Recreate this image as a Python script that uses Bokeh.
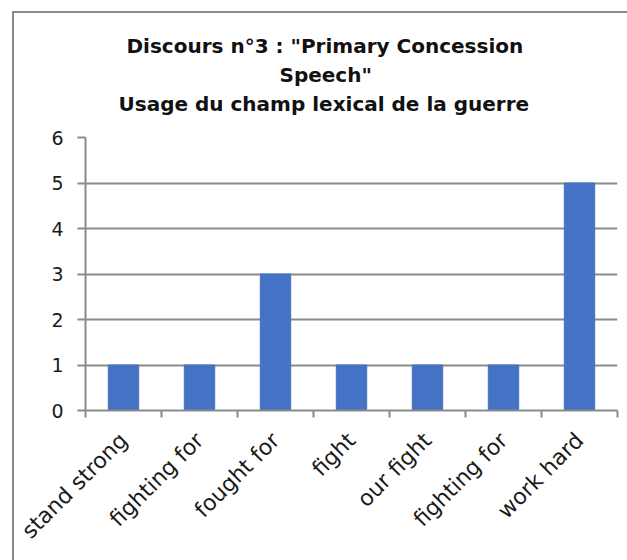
from bokeh.plotting import figure
from bokeh.models import Title, FixedTicker, Range1d
from bokeh.embed import file_html
from bokeh.resources import INLINE
import math

title_lines = ['Discours n°3 : "Primary Concession', 'Speech"', 'Usage du champ lexical de la guerre']
labels = ["stand strong", "fighting for", "fought for", "fight", "our fight", "fighting for", "work hard"]
values = [1, 1, 3, 1, 1, 1, 5]
y_ticks = [0, 1, 2, 3, 4, 5, 6]

TITLE_FONT = "DejaVu Sans"
TICK_FONT = "DejaVu Sans"
GRAY = "#8a8a8a"
BAR = "#4472C4"
TXT = "#1a1a1a"

n = len(labels)
xs = [i + 0.5 for i in range(n)]

p = figure(width=627, height=560, output_backend="svg", toolbar_location=None,
           x_range=Range1d(0, n), y_range=Range1d(0, 6),
           min_border_left=85, min_border_right=10, min_border_top=137, min_border_bottom=150)

# chart-area border: left and top edges, drawn behind a transparent canvas border
p.border_fill_alpha = 0
p.background_fill_color = "white"
p.styles = {
    "background-color": "white",
    "background-image": f"linear-gradient({GRAY}, {GRAY}), linear-gradient({GRAY}, {GRAY})",
    "background-size": "2px 100%, 100% 2px",
    "background-position": "12px 11px, 12px 11px",
    "background-repeat": "no-repeat",
}

p.vbar(x=xs, top=values, width=0.4, color=BAR, line_color=BAR)

p.outline_line_color = None
p.xgrid.grid_line_color = None
p.ygrid.grid_line_color = GRAY
p.ygrid.grid_line_width = 2
p.ygrid.ticker = FixedTicker(ticks=y_ticks)

ya = p.yaxis[0]
ya.ticker = FixedTicker(ticks=y_ticks)
ya.axis_line_color = GRAY
ya.axis_line_width = 2
ya.major_tick_line_color = GRAY
ya.major_tick_line_width = 2
ya.major_tick_out = 8
ya.major_tick_in = 0
ya.minor_tick_line_color = None
ya.major_label_text_font = TICK_FONT
ya.major_label_text_font_size = "19px"
ya.major_label_text_color = TXT
ya.major_label_standoff = 14

xa = p.xaxis[0]
xa.ticker = FixedTicker(ticks=xs, minor_ticks=list(range(n + 1)))
xa.major_label_overrides = {x: lab for x, lab in zip(xs, labels)}
xa.axis_line_color = GRAY
xa.axis_line_width = 2
xa.major_tick_line_color = None
xa.major_tick_out = 6
xa.minor_tick_line_color = GRAY
xa.minor_tick_line_width = 2
xa.minor_tick_out = 7
xa.minor_tick_in = 0
xa.major_label_orientation = math.pi / 4
xa.major_label_text_font = TICK_FONT
xa.major_label_text_font_size = "22px"
xa.major_label_text_color = TXT
xa.major_label_standoff = 19

# spacer between the plot area and the title block
p.add_layout(Title(text=" ", text_font=TITLE_FONT, text_font_size="10px", standoff=5), "above")

# title lines, bottom-most first; left-aligned with offsets from the frame's left edge
offsets = [33, 194, 41]   # lines 3, 2, 1
standoffs = [3, 3, 3]
for line, off, so in zip(reversed(title_lines), offsets, standoffs):
    t = Title(text=line, align="left", offset=off, vertical_align="top",
              text_font=TITLE_FONT, text_font_size="20px", text_font_style="bold",
              text_color="#111111", standoff=so)
    p.add_layout(t, "above")

open("out.html", "w").write(file_html(p, INLINE))
